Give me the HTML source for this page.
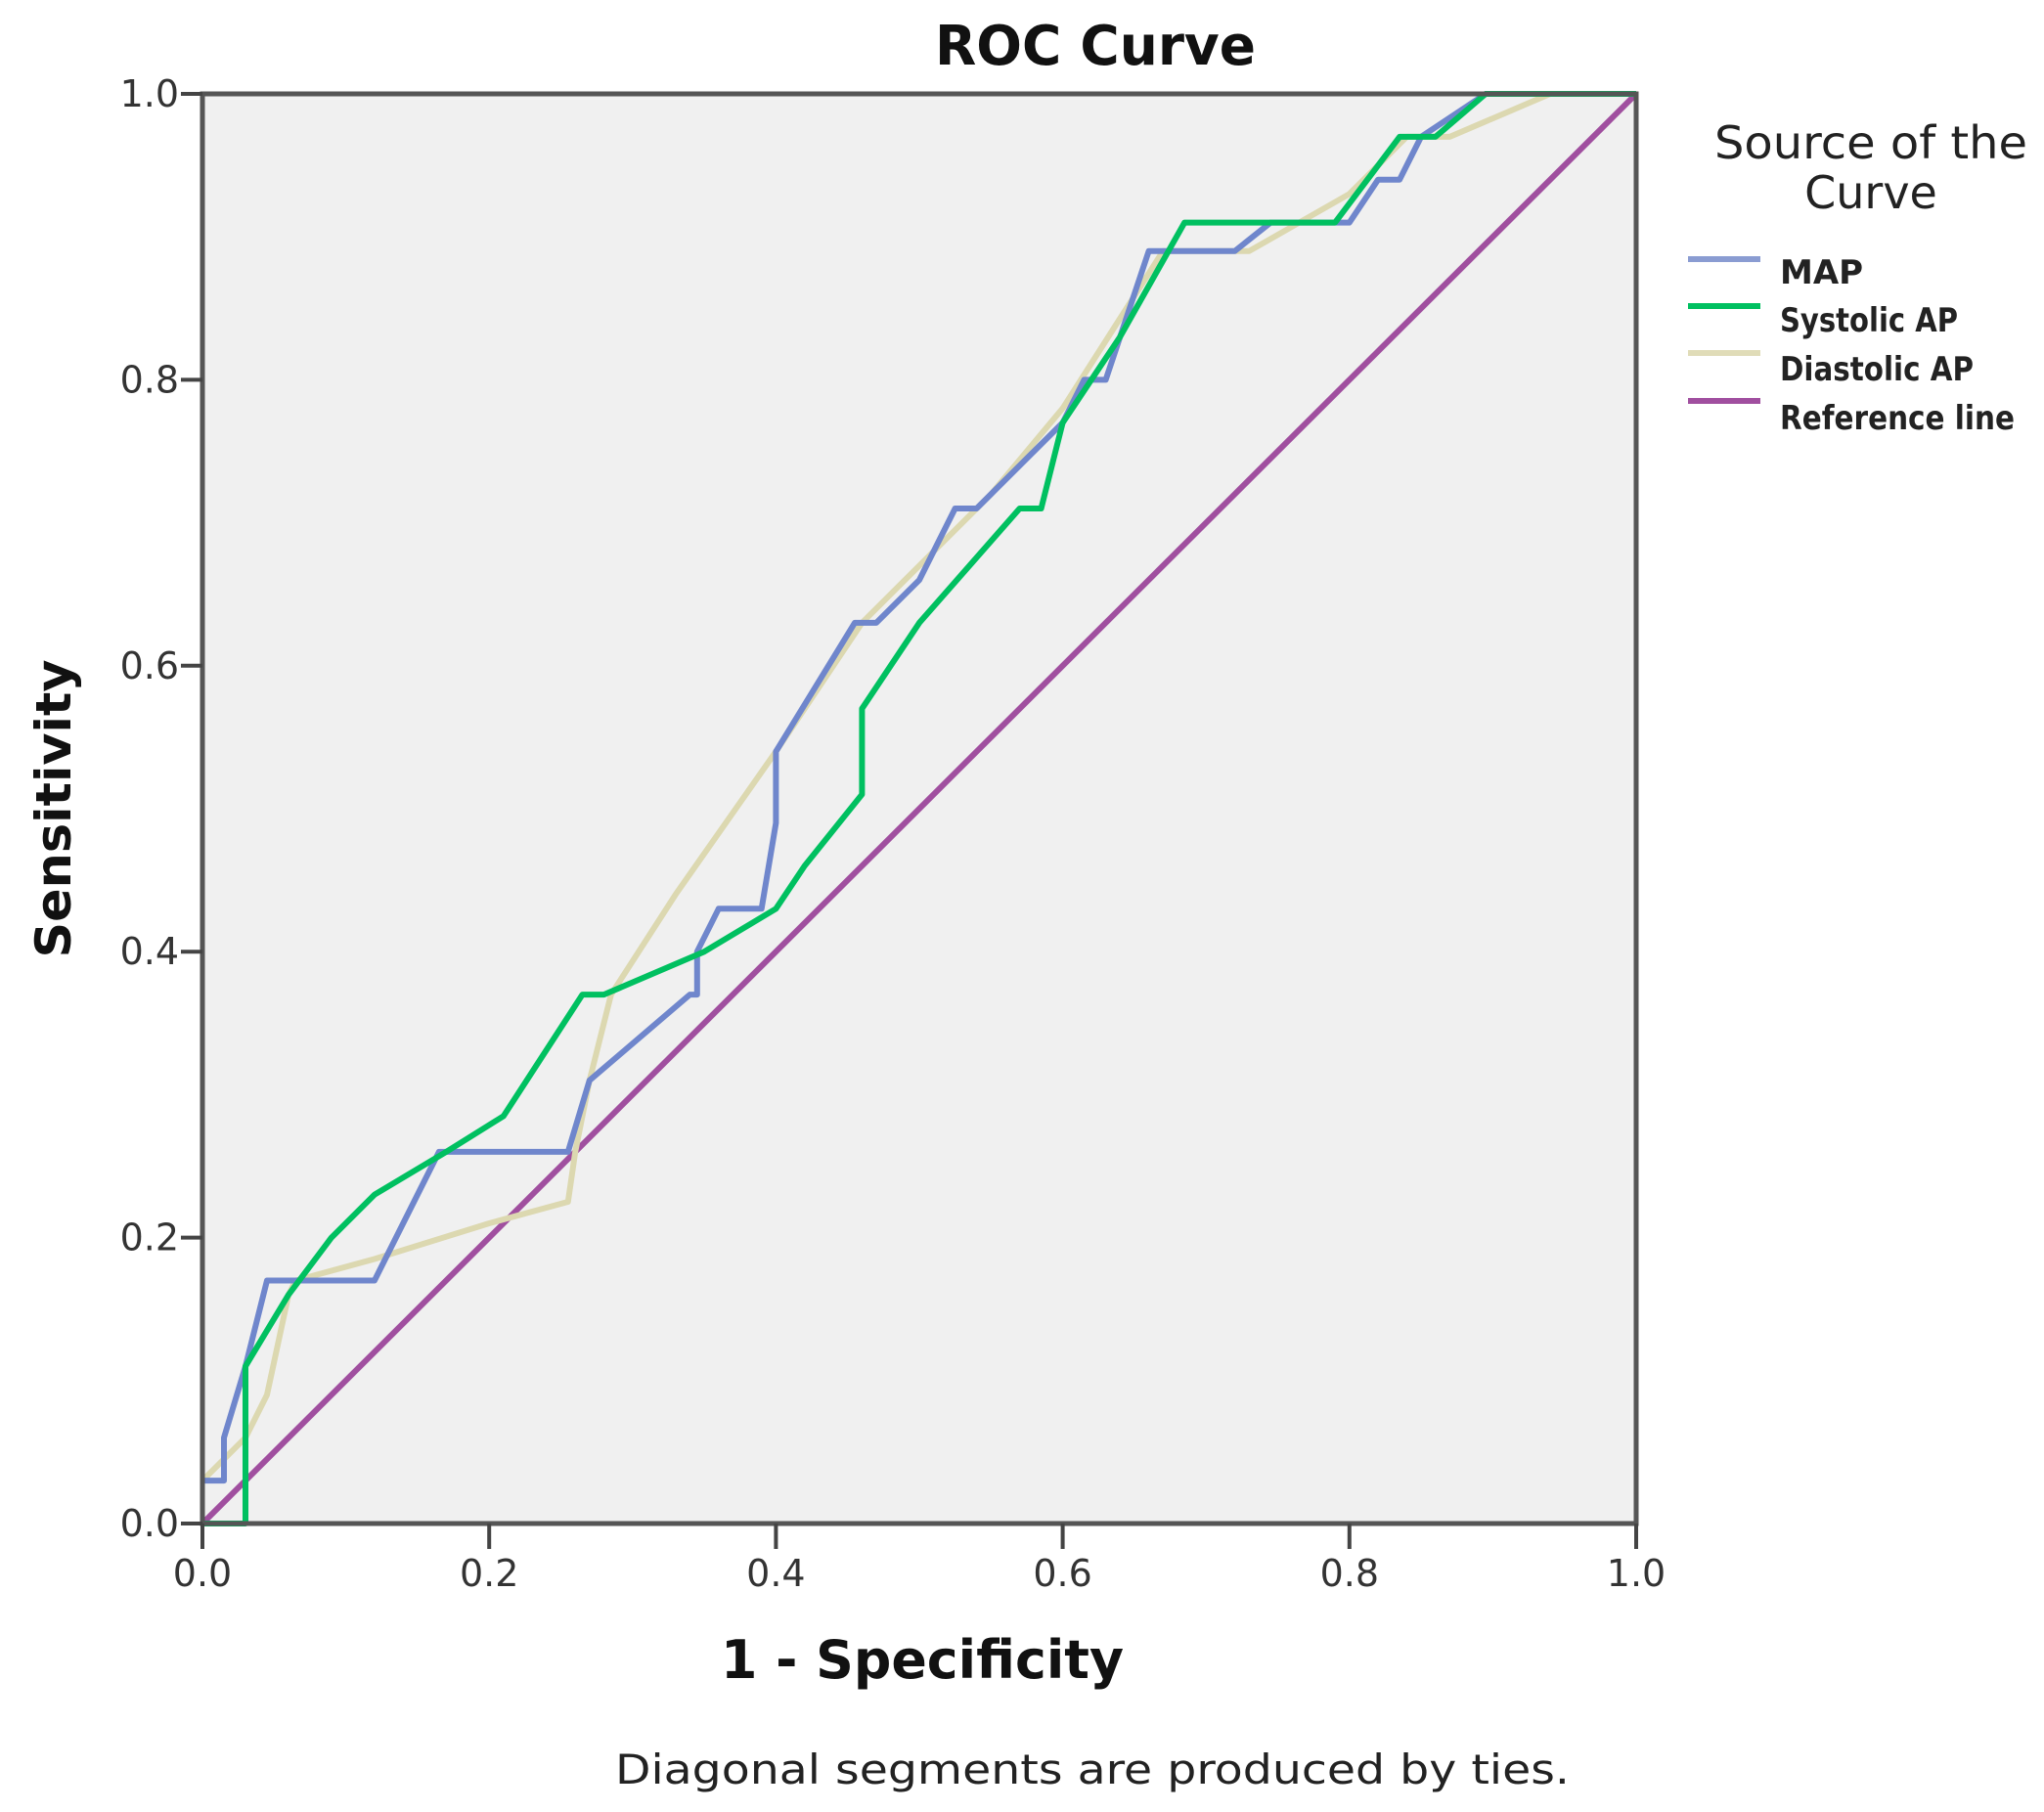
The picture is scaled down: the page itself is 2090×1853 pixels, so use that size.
<!DOCTYPE html>
<html><head><meta charset="utf-8"><style>
html,body{margin:0;padding:0;background:#fff;}
svg{display:block;font-family:"DejaVu Sans","Liberation Sans",sans-serif;}
</style></head><body>
<svg id="chart" width="2090" height="1853" viewBox="0 0 2090 1853" xmlns="http://www.w3.org/2000/svg">
<text x="1120" y="66" text-anchor="middle" font-size="56" font-weight="bold" fill="#111" textLength="328" lengthAdjust="spacingAndGlyphs">ROC Curve</text>
<rect x="207" y="96" width="1466" height="1462" fill="#f0f0f0"/>
<g id="grid"></g>
<g id="series"></g>
<rect x="207" y="96" width="1466" height="1462" fill="none" stroke="#555" stroke-width="5"/>
<g id="axes"></g>
<text x="943" y="1716" text-anchor="middle" font-size="54" font-weight="bold" fill="#111" textLength="412" lengthAdjust="spacingAndGlyphs">1 - Specificity</text>
<text transform="translate(72,827) rotate(-90)" text-anchor="middle" font-size="50" font-weight="bold" fill="#111" textLength="305" lengthAdjust="spacingAndGlyphs">Sensitivity</text>
<text x="1117" y="1824" text-anchor="middle" font-size="42" fill="#222" textLength="976" lengthAdjust="spacingAndGlyphs">Diagonal segments are produced by ties.</text>
<g>
<text x="1913" y="162" text-anchor="middle" font-size="46" fill="#222" textLength="320" lengthAdjust="spacingAndGlyphs">Source of the</text>
<text x="1913" y="213" text-anchor="middle" font-size="46" fill="#222">Curve</text>
<line x1="1726" y1="265" x2="1800" y2="265" stroke="#8a9cd2" stroke-width="6"/>
<text x="1820" y="290" font-size="34" font-weight="bold" fill="#222">MAP</text>
<line x1="1726" y1="313" x2="1800" y2="313" stroke="#00c060" stroke-width="6"/>
<text x="1820" y="339" font-size="34" font-weight="bold" fill="#222" textLength="182" lengthAdjust="spacingAndGlyphs">Systolic AP</text>
<line x1="1726" y1="361" x2="1800" y2="361" stroke="#e0dcb8" stroke-width="6"/>
<text x="1820" y="389" font-size="34" font-weight="bold" fill="#222" textLength="198" lengthAdjust="spacingAndGlyphs">Diastolic AP</text>
<line x1="1726" y1="410" x2="1800" y2="410" stroke="#a04f9f" stroke-width="6"/>
<text x="1820" y="439" font-size="34" font-weight="bold" fill="#222" textLength="240" lengthAdjust="spacingAndGlyphs">Reference line</text>
</g>
</svg>
<script>
const tickValues = [0, 0.2, 0.4, 0.6, 0.8, 1.0];
const tickLabels = ["0.0", "0.2", "0.4", "0.6", "0.8", "1.0"];
const mapX = [0,0.015,0.015,0.03,0.045,0.12,0.165,0.255,0.27,0.34,0.345,0.345,0.36,0.39,0.40,0.40,0.455,0.47,0.5,0.525,0.54,0.6,0.615,0.63,0.66,0.72,0.745,0.8,0.82,0.835,0.85,0.895,1];
const mapY = [0.03,0.03,0.06,0.11,0.17,0.17,0.26,0.26,0.31,0.37,0.37,0.40,0.43,0.43,0.49,0.54,0.63,0.63,0.66,0.71,0.71,0.77,0.80,0.80,0.89,0.89,0.91,0.91,0.94,0.94,0.97,1.0,1];
const sysX = [0,0.03,0.03,0.06,0.09,0.12,0.17,0.21,0.265,0.28,0.35,0.4,0.42,0.46,0.46,0.5,0.57,0.585,0.6,0.64,0.685,0.79,0.835,0.86,0.895,1];
const sysY = [0,0,0.11,0.16,0.2,0.23,0.26,0.285,0.37,0.37,0.40,0.43,0.46,0.51,0.57,0.63,0.71,0.71,0.77,0.83,0.91,0.91,0.97,0.97,1.0,1];
const diaX = [0,0.03,0.045,0.06,0.065,0.12,0.2,0.255,0.26,0.27,0.285,0.33,0.4,0.46,0.55,0.6,0.67,0.73,0.8,0.84,0.87,0.94,1];
const diaY = [0.03,0.06,0.09,0.16,0.17,0.185,0.21,0.225,0.26,0.31,0.37,0.44,0.54,0.63,0.72,0.78,0.89,0.89,0.93,0.97,0.97,1.0,1];
const refX = [0, 1];
const refY = [0, 1];

const NS = "http://www.w3.org/2000/svg";
const X0 = 207, X1 = 1673, Y0 = 1558, Y1 = 96;
function sx(v){ return X0 + v * (X1 - X0); }
function sy(v){ return Y0 - v * (Y0 - Y1); }

const axes = document.getElementById('axes');
tickValues.forEach((t, i) => {
  const xt = document.createElementNS(NS, 'line');
  xt.setAttribute('x1', sx(t)); xt.setAttribute('x2', sx(t));
  xt.setAttribute('y1', Y0); xt.setAttribute('y2', Y0 + 26);
  xt.setAttribute('stroke', '#444'); xt.setAttribute('stroke-width', '4');
  
  
  axes.appendChild(xt);
  const xl = document.createElementNS(NS, 'text');
  xl.setAttribute('x', sx(t)); xl.setAttribute('y', Y0 + 64);
  xl.setAttribute('text-anchor', 'middle'); xl.setAttribute('font-size', '38'); xl.setAttribute('fill', '#333');
  xl.textContent = tickLabels[i];
  
  
  axes.appendChild(xl);
  const yt = document.createElementNS(NS, 'line');
  yt.setAttribute('x1', X0 - 22); yt.setAttribute('x2', X0);
  yt.setAttribute('y1', sy(t)); yt.setAttribute('y2', sy(t));
  yt.setAttribute('stroke', '#444'); yt.setAttribute('stroke-width', '4');
  
  
  axes.appendChild(yt);
  const yl = document.createElementNS(NS, 'text');
  yl.setAttribute('x', X0 - 24); yl.setAttribute('y', sy(t) + 13);
  yl.setAttribute('text-anchor', 'end'); yl.setAttribute('font-size', '38'); yl.setAttribute('fill', '#333');
  yl.textContent = tickLabels[i];
  
  
  axes.appendChild(yl);
});

const series = document.getElementById('series');
function drawLine(xs, ys, color, name){
  const p = document.createElementNS(NS, 'polyline');
  p.setAttribute('points', xs.map((x, i) => sx(x).toFixed(1) + ',' + sy(ys[i]).toFixed(1)).join(' '));
  p.setAttribute('fill', 'none'); p.setAttribute('stroke', color);
  p.setAttribute('stroke-width', '6'); p.setAttribute('stroke-linejoin', 'round');
  
  
  series.appendChild(p);
}
drawLine(refX, refY, '#a04f9f', 'reference-line');
drawLine(diaX, diaY, '#dcd8b0', 'diastolic-ap-curve');
drawLine(mapX, mapY, '#6f86cc', 'map-curve');
drawLine(sysX, sysY, '#00c060', 'systolic-ap-curve');
</script>
</body></html>
